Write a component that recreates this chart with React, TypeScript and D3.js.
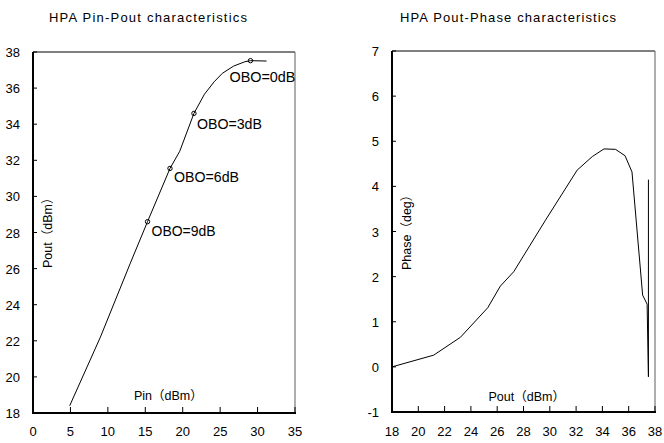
import React from "react";
import * as d3 from "d3";

// ---- Data ----
const pinPoutTitle = "HPA Pin-Pout characteristics";
const poutPhaseTitle = "HPA Pout-Phase characteristics";

const pinTicks = [0, 5, 10, 15, 20, 25, 30, 35];
const poutTicksL = [18, 20, 22, 24, 26, 28, 30, 32, 34, 36, 38];
const poutTicksR = [18, 20, 22, 24, 26, 28, 30, 32, 34, 36, 38];
const phaseTicks = [-1, 0, 1, 2, 3, 4, 5, 6, 7];

const pinValues = [4.9, 9.0, 13.0, 15.3, 18.3, 19.6, 21.5, 22.9, 24.2, 25.3, 26.8, 28.3, 29.05, 31.2];
const poutValues = [18.4, 22.2, 26.3, 28.6, 31.55, 32.5, 34.6, 35.66, 36.35, 36.82, 37.22, 37.46, 37.52, 37.5];

const oboLabels = ["OBO=9dB", "OBO=6dB", "OBO=3dB", "OBO=0dB"];
const oboPin = [15.3, 18.3, 21.5, 29.05];
const oboPout = [28.6, 31.55, 34.6, 37.52];

const phPout = [18.0, 21.17, 23.2, 25.28, 26.24, 27.26, 29.67, 32.08, 33.23, 34.12, 35.0, 35.72, 36.25, 37.06, 37.4, 37.5, 37.5];
const phDeg = [0.0, 0.26, 0.655, 1.31, 1.79, 2.11, 3.25, 4.36, 4.66, 4.83, 4.82, 4.68, 4.32, 1.59, 1.39, -0.22, 4.15];

const FONT = "'Liberation Sans', Arial, 'Noto Sans CJK JP', sans-serif";

export default function App() {
  const xL = d3.scaleLinear().domain([0, 35]).range([33, 295]);
  const yL = d3.scaleLinear().domain([18, 38]).range([413, 52]);
  const xR = d3.scaleLinear().domain([18, 38]).range([392, 655]);
  const yR = d3.scaleLinear().domain([-1, 7]).range([412, 51]);

  const leftData = pinValues.map((p, i) => [p, poutValues[i]] as [number, number]);
  const rightData = phPout.map((p, i) => [p, phDeg[i]] as [number, number]);

  const lineL = d3.line<[number, number]>().x(d => xL(d[0])).y(d => yL(d[1]));
  const lineR = d3.line<[number, number]>().x(d => xR(d[0])).y(d => yR(d[1]));

  // label offsets relative to marker (layout only)
  const oboDx = [4, 4, 3, -21];
  const oboDy = [14, 14, 16, 21];
  const oboLen = [64, 65, 65, 66];

  const frame = (x0: number, x1: number, y0: number, y1: number) => (
    <g>
      <line x1={x0} y1={y0} x2={x1} y2={y0} stroke="#000" strokeWidth={1} />
      <line x1={x1} y1={y0} x2={x1} y2={y1} stroke="#777" strokeWidth={1.2} />
      <line x1={x0} y1={y0} x2={x0} y2={y1 + 1} stroke="#000" strokeWidth={2} />
      <line x1={x0 - 1} y1={y1} x2={x1 + 1} y2={y1} stroke="#000" strokeWidth={2} />
    </g>
  );

  return (
    <svg width={664} height={443} style={{ position: "absolute", left: 0, top: 0, background: "#fff" }} fontFamily={FONT}>
      <rect width={664} height={443} fill="#fff" />

      {/* Left chart */}
      <text x={148} y={22} fontSize={13} textAnchor="middle" textLength={198} lengthAdjust="spacing">{pinPoutTitle}</text>
      {frame(33, 295, 52, 413)}
      {poutTicksL.map(t => (
        <g key={"ly" + t}>
          <line x1={33} x2={37} y1={yL(t)} y2={yL(t)} stroke="#000" />
          <text x={20} y={yL(t) + 5} fontSize={13} textAnchor="end">{t}</text>
        </g>
      ))}
      {pinTicks.map(t => (
        <g key={"lx" + t}>
          <line x1={xL(t)} x2={xL(t)} y1={413} y2={407} stroke="#000" />
          <text x={xL(t)} y={436} fontSize={13} textAnchor="middle">{t}</text>
        </g>
      ))}
      <text x={134} y={400} fontSize={12.5}>Pin（dBm）</text>
      <text transform="translate(51.5,268) rotate(-90)" fontSize={12.5}>Pout（dBm）</text>
      <path d={lineL(leftData) || ""} fill="none" stroke="#000" strokeWidth={1} />
      {oboPin.map((p, i) => (
        <g key={"obo" + i}>
          <circle cx={xL(p)} cy={yL(oboPout[i])} r={2.2} fill="none" stroke="#000" strokeWidth={1} />
          <text x={xL(p) + oboDx[i]} y={yL(oboPout[i]) + oboDy[i]} fontSize={14} textLength={oboLen[i]} lengthAdjust="spacingAndGlyphs">{oboLabels[i]}</text>
        </g>
      ))}

      {/* Right chart */}
      <text x={508} y={22} fontSize={13} textAnchor="middle" textLength={216} lengthAdjust="spacing">{poutPhaseTitle}</text>
      {frame(392, 655, 51, 412)}
      {phaseTicks.map(t => (
        <g key={"ry" + t}>
          <line x1={392} x2={396} y1={yR(t)} y2={yR(t)} stroke="#000" />
          <text x={379} y={yR(t) + 5} fontSize={13} textAnchor="end">{t}</text>
        </g>
      ))}
      {poutTicksR.map(t => (
        <g key={"rx" + t}>
          <line x1={xR(t)} x2={xR(t)} y1={412} y2={406} stroke="#000" />
          <text x={xR(t)} y={436} fontSize={13} textAnchor="middle">{t}</text>
        </g>
      ))}
      <text x={488.5} y={401} fontSize={12.5}>Pout（dBm）</text>
      <text transform="translate(411,270) rotate(-90)" fontSize={12.5}>Phase（deg）</text>
      <path d={lineR(rightData) || ""} fill="none" stroke="#000" strokeWidth={1} />
    </svg>
  );
}
